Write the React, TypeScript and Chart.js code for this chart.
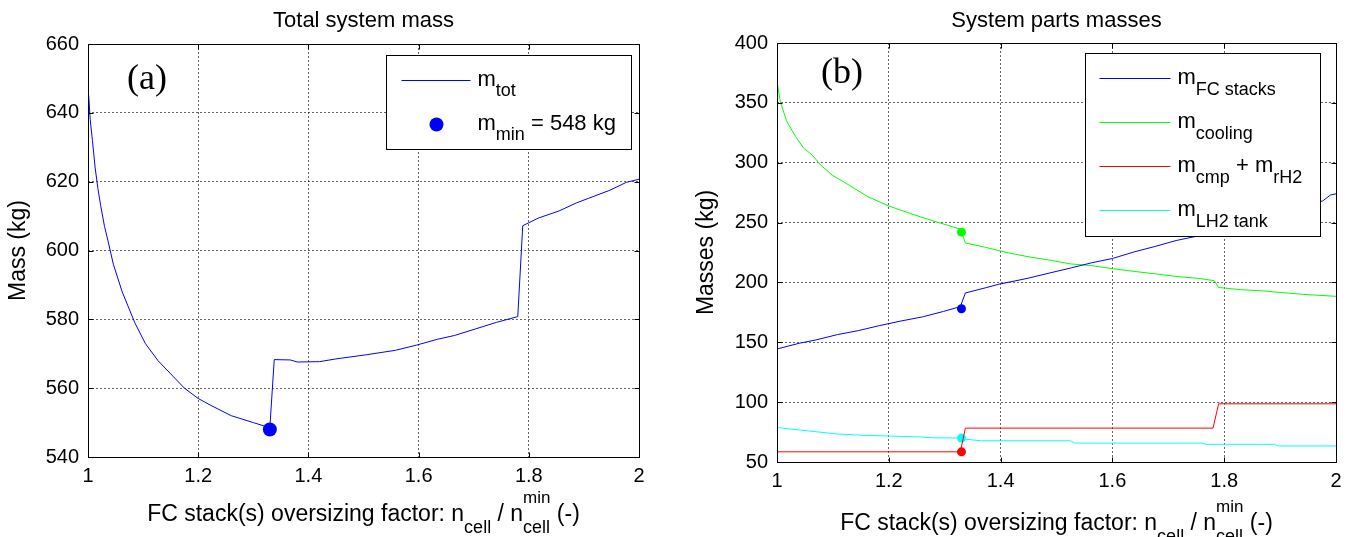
import React, { useEffect, useRef } from 'react';
import { Chart, registerables } from 'chart.js';

Chart.register(...registerables);

const FONT = '"Liberation Sans", Arial, Helvetica, sans-serif';
const SERIF = '"Liberation Serif", "Times New Roman", Times, serif';

// ---------- Panel (a): total system mass ----------
const totX = [1.0, 1.004, 1.008, 1.013, 1.018, 1.023, 1.03, 1.036, 1.046, 1.062, 1.085, 1.104, 1.127, 1.154, 1.175, 1.2, 1.223, 1.26, 1.3, 1.33,
  1.338, 1.367, 1.38, 1.42, 1.45, 1.505, 1.558, 1.596, 1.634, 1.665, 1.703, 1.741, 1.78,
  1.789, 1.817, 1.855, 1.886, 1.909, 1.947, 1.977, 2.0];
const totY = [648, 638, 632, 624, 618, 613, 607, 603, 596, 588, 579, 573, 568, 563.5, 560, 557, 555, 552, 550, 548.5,
  568.3, 568.2, 567.6, 567.7, 568.5, 569.7, 571, 572.5, 574.2, 575.3, 577.2, 579.1, 580.8,
  607.2, 609.4, 611.5, 613.8, 615.2, 617.5, 619.8, 620.7];
const minX = [1.33];
const minY = [548];
const aXTicks = [1, 1.2, 1.4, 1.6, 1.8, 2];
const aXTickLabels = ['1', '1.2', '1.4', '1.6', '1.8', '2'];
const aYTicks = [540, 560, 580, 600, 620, 640, 660];
const aYTickLabels = ['540', '560', '580', '600', '620', '640', '660'];

// ---------- Panel (b): system parts masses ----------
const fcX = [1, 1.04, 1.07, 1.108, 1.146, 1.184, 1.222, 1.26, 1.298, 1.328, 1.337, 1.373, 1.396, 1.449, 1.487, 1.525,
  1.563, 1.6, 1.639, 1.676, 1.714, 1.752, 1.782, 1.79, 1.85, 1.9, 1.95, 1.976, 1.99, 2];
const fcY = [144.4, 149.2, 152, 156.4, 159.8, 164, 167.8, 171.2, 175.8, 179.8, 191.2, 195.5, 198.4, 203.5, 207.8, 212,
  216.4, 220, 225.5, 230, 235, 238.7, 242, 252.5, 258, 263, 266, 268, 273, 274];
const coolX = [1, 1.006, 1.017, 1.033, 1.048, 1.063, 1.078, 1.1, 1.131, 1.161, 1.199, 1.237, 1.275, 1.305, 1.328, 1.337,
  1.373, 1.411, 1.449, 1.487, 1.525, 1.563, 1.6, 1.639, 1.676, 1.714, 1.752, 1.782, 1.79, 1.828, 1.866, 1.904, 1.942, 2];
const coolY = [368, 351, 335, 322, 312, 306.5, 298, 289.3, 280.7, 272, 264, 257.8, 252, 247.8, 244.4, 233,
  229.3, 225, 221.5, 218.7, 215.5, 214, 211.5, 209.2, 207.2, 205, 203.5, 201.5, 195.8, 194, 193, 191.5, 190, 188.4];
const cmpX = [1, 1.328, 1.337, 1.78, 1.79, 2];
const cmpY = [58.5, 58.5, 78.3, 78.3, 98.6, 98.6];
const tankX = [1, 1.054, 1.107, 1.161, 1.252, 1.283, 1.33, 1.338, 1.366, 1.525, 1.533, 1.76, 1.767, 1.89, 1.896, 2];
const tankY = [78.8, 76.1, 73.4, 72.2, 71, 70.2, 70, 69, 67.7, 67.7, 65.8, 65.8, 64.8, 64.8, 63.4, 63.4];
const optX = [1.33];
const fcOpt = [178];
const coolOpt = [242];
const cmpOpt = [58.5];
const tankOpt = [70];
const bXTicks = [1, 1.2, 1.4, 1.6, 1.8, 2];
const bXTickLabels = ['1', '1.2', '1.4', '1.6', '1.8', '2'];
const bYTicks = [50, 100, 150, 200, 250, 300, 350, 400];
const bYTickLabels = ['50', '100', '150', '200', '250', '300', '350', '400'];

const BLUE = '#0000ff';
const GREEN = '#00ff00';
const RED = '#ff0000';
const CYAN = '#00ffff';

type Piece = { t: string; size: number; dy: number };
type Part = Piece | { stack: Piece[] };

const MAIN = 22;
const SUB = 18;

function partWidth(ctx: CanvasRenderingContext2D, p: Part): number {
  if ('stack' in p) {
    return Math.max(...p.stack.map((s) => partWidth(ctx, s)));
  }
  ctx.font = `${p.size}px ${FONT}`;
  return ctx.measureText(p.t).width;
}

function drawParts(ctx: CanvasRenderingContext2D, x: number, y: number, parts: Part[]) {
  let cx = x;
  ctx.textAlign = 'left';
  ctx.textBaseline = 'alphabetic';
  ctx.fillStyle = '#000';
  for (const p of parts) {
    if ('stack' in p) {
      for (const s of p.stack) {
        ctx.font = `${s.size}px ${FONT}`;
        ctx.fillText(s.t, cx, y + s.dy);
      }
      cx += partWidth(ctx, p);
    } else {
      ctx.font = `${p.size}px ${FONT}`;
      ctx.fillText(p.t, cx, y + p.dy);
      cx += ctx.measureText(p.t).width;
    }
  }
}

const xLabelParts: Part[] = [
  { t: 'FC stack(s) oversizing factor: n', size: 23, dy: 0 },
  { t: 'cell', size: SUB, dy: 12 },
  { t: ' / n', size: 23, dy: 0 },
  { stack: [{ t: 'min', size: 17, dy: -18 }, { t: 'cell', size: SUB, dy: 12 }] },
  { t: ' (-)', size: 23, dy: 0 },
];

type LegendEntry = { kind: 'line' | 'dot'; color: string; parts: Part[] };

type PanelCfg = {
  title: string;
  yTitle: string;
  tag: string;
  tagDx: number;
  tagY: number;
  xLabelDy: number;
  yTitleX: number;
  xTicks: number[];
  yTicks: number[];
  legend: LegendEntry[];
  legendBox: { rightGap: number; topGap: number; w: number; h: number; lineX0: number; lineX1: number; textX: number; row0: number; rowStep: number; dotX: number; dotR: number };
};

function decorPlugin(cfg: PanelCfg) {
  return {
    id: 'decor',
    afterDraw(chart: any) {
      const ctx: CanvasRenderingContext2D = chart.ctx;
      const { left, right, top, bottom } = chart.chartArea;
      const xs = chart.scales.x;
      const ys = chart.scales.y;
      ctx.save();
      // axes box
      const L = Math.floor(left) + 0.5;
      const R = Math.floor(right) + 0.5;
      const T = Math.floor(top) + 0.5;
      const B = Math.floor(bottom) + 0.5;
      ctx.strokeStyle = '#000';
      ctx.lineWidth = 1;
      ctx.setLineDash([]);
      ctx.strokeRect(L, T, R - L, B - T);
      // inward ticks on all sides
      ctx.beginPath();
      for (const v of cfg.xTicks) {
        const px = Math.round(xs.getPixelForValue(v)) + 0.5;
        ctx.moveTo(px, B); ctx.lineTo(px, B - 5);
        ctx.moveTo(px, T); ctx.lineTo(px, T + 5);
      }
      for (const v of cfg.yTicks) {
        const py = Math.round(ys.getPixelForValue(v)) + 0.5;
        ctx.moveTo(L, py); ctx.lineTo(L + 5, py);
        ctx.moveTo(R, py); ctx.lineTo(R - 5, py);
      }
      ctx.stroke();

      // title
      const cx = (left + right) / 2;
      ctx.fillStyle = '#000';
      ctx.font = `22px ${FONT}`;
      ctx.textAlign = 'center';
      ctx.textBaseline = 'alphabetic';
      ctx.fillText(cfg.title, cx, 27);

      // y title
      ctx.save();
      ctx.translate(cfg.yTitleX, (top + bottom) / 2);
      ctx.rotate(-Math.PI / 2);
      ctx.font = `23px ${FONT}`;
      ctx.textAlign = 'center';
      ctx.textBaseline = 'middle';
      ctx.fillText(cfg.yTitle, 0, 0);
      ctx.restore();

      // x title
      const w = xLabelParts.reduce((s, p) => s + partWidth(ctx, p), 0);
      drawParts(ctx, cx - w / 2, bottom + cfg.xLabelDy, xLabelParts);

      // panel tag
      ctx.font = `36px ${SERIF}`;
      ctx.textAlign = 'center';
      ctx.textBaseline = 'middle';
      ctx.fillStyle = '#000';
      ctx.fillText(cfg.tag, left + cfg.tagDx, cfg.tagY);

      // legend
      const lb = cfg.legendBox;
      const x0 = Math.floor(right - lb.rightGap - lb.w) + 0.5;
      const y0 = Math.floor(top + lb.topGap) + 0.5;
      ctx.fillStyle = '#fff';
      ctx.fillRect(x0, y0, lb.w, lb.h);
      ctx.strokeStyle = '#000';
      ctx.lineWidth = 1;
      ctx.strokeRect(x0, y0, lb.w, lb.h);
      cfg.legend.forEach((e, i) => {
        const ly = Math.round(y0 + lb.row0 + i * lb.rowStep) + 0.5;
        if (e.kind === 'line') {
          ctx.strokeStyle = e.color;
          ctx.lineWidth = 1;
          ctx.beginPath();
          ctx.moveTo(x0 + lb.lineX0, ly);
          ctx.lineTo(x0 + lb.lineX1, ly);
          ctx.stroke();
        } else {
          ctx.fillStyle = e.color;
          ctx.beginPath();
          ctx.arc(x0 + lb.dotX, ly, lb.dotR, 0, Math.PI * 2);
          ctx.fill();
        }
        drawParts(ctx, x0 + lb.textX, ly + 5, e.parts);
      });
      ctx.restore();
    },
  };
}

function pts(xs: number[], ys: number[]) {
  return xs.map((x, i) => ({ x, y: ys[i] }));
}

function lineDs(label: string, xs: number[], ys: number[], color: string) {
  return {
    type: 'line',
    label,
    data: pts(xs, ys),
    borderColor: color,
    backgroundColor: color,
    borderWidth: 1,
    pointRadius: 0,
    tension: 0,
    fill: false,
  };
}

function dotDs(label: string, xs: number[], ys: number[], color: string, r: number) {
  return {
    type: 'line',
    label,
    data: pts(xs, ys),
    showLine: false,
    pointRadius: r,
    pointHoverRadius: r,
    pointBackgroundColor: color,
    pointBorderColor: color,
    pointBorderWidth: 0,
    borderColor: color,
  };
}

function makeScales(xTicks: number[], xLabels: string[], yTicks: number[], yLabels: string[], yWidth: number, xHeight: number) {
  const grid = { color: 'rgba(0,0,0,0.6)', lineWidth: 1, drawTicks: false };
  const border = { display: false, dash: [2, 2] };
  const font = { family: FONT, size: 20 };
  return {
    x: {
      type: 'linear',
      min: xTicks[0],
      max: xTicks[xTicks.length - 1],
      afterBuildTicks: (s: any) => { s.ticks = xTicks.map((v) => ({ value: v })); },
      afterFit: (s: any) => { s.height = xHeight; },
      ticks: {
        autoSkip: false,
        maxRotation: 0,
        padding: 7,
        color: '#000',
        font,
        callback: (_v: any, i: number) => xLabels[i],
      },
      grid,
      border,
    },
    y: {
      type: 'linear',
      min: yTicks[0],
      max: yTicks[yTicks.length - 1],
      afterBuildTicks: (s: any) => { s.ticks = yTicks.map((v) => ({ value: v })); },
      afterFit: (s: any) => { s.width = yWidth; },
      ticks: {
        autoSkip: false,
        padding: 9,
        color: '#000',
        font,
        callback: (_v: any, i: number) => yLabels[i],
      },
      grid,
      border,
    },
  };
}

const panelA: PanelCfg = {
  title: 'Total system mass',
  yTitle: 'Mass (kg)',
  tag: '(a)',
  tagDx: 59,
  tagY: 80,
  xLabelDy: 64,
  yTitleX: 19,
  xTicks: aXTicks,
  yTicks: aYTicks,
  legend: [
    { kind: 'line', color: BLUE, parts: [{ t: 'm', size: MAIN, dy: 0 }, { t: 'tot', size: SUB, dy: 10 }] },
    { kind: 'dot', color: BLUE, parts: [{ t: 'm', size: MAIN, dy: 0 }, { t: 'min', size: SUB, dy: 10 }, { t: ' = 548 kg', size: MAIN, dy: 0 }] },
  ],
  legendBox: { rightGap: 8, topGap: 11, w: 245, h: 94, lineX0: 15, lineX1: 84, textX: 91, row0: 24, rowStep: 44, dotX: 50, dotR: 7 },
};

const panelB: PanelCfg = {
  title: 'System parts masses',
  yTitle: 'Masses (kg)',
  tag: '(b)',
  tagDx: 65,
  tagY: 74,
  xLabelDy: 68,
  yTitleX: 17,
  xTicks: bXTicks,
  yTicks: bYTicks,
  legend: [
    { kind: 'line', color: BLUE, parts: [{ t: 'm', size: MAIN, dy: 0 }, { t: 'FC stacks', size: SUB, dy: 11 }] },
    { kind: 'line', color: GREEN, parts: [{ t: 'm', size: MAIN, dy: 0 }, { t: 'cooling', size: SUB, dy: 11 }] },
    { kind: 'line', color: RED, parts: [{ t: 'm', size: MAIN, dy: 0 }, { t: 'cmp', size: SUB, dy: 11 }, { t: ' + m', size: MAIN, dy: 0 }, { t: 'rH2', size: SUB, dy: 11 }] },
    { kind: 'line', color: CYAN, parts: [{ t: 'm', size: MAIN, dy: 0 }, { t: 'LH2 tank', size: SUB, dy: 11 }] },
  ],
  legendBox: { rightGap: 16, topGap: 10, w: 235, h: 183, lineX0: 14, lineX1: 85, textX: 92, row0: 24, rowStep: 44, dotX: 50, dotR: 0 },
};

function PanelChart({ width, height, left, build }: { width: number; height: number; left: number; build: (c: HTMLCanvasElement) => Chart }) {
  const ref = useRef<HTMLCanvasElement>(null);
  useEffect(() => {
    if (!ref.current) return;
    const chart = build(ref.current);
    return () => chart.destroy();
  }, []);
  return (
    <div style={{ position: 'absolute', left, top: 0, width, height }}>
      <canvas ref={ref} width={width} height={height} style={{ display: 'block', width, height }} />
    </div>
  );
}

function buildA(canvas: HTMLCanvasElement) {
  return new Chart(canvas, {
    type: 'line',
    data: {
      datasets: [
        lineDs('m_tot', totX, totY, BLUE),
        dotDs('m_min', minX, minY, BLUE, 7),
      ] as any,
    },
    options: {
      responsive: false,
      animation: false,
      devicePixelRatio: 1,
      layout: { padding: { left: 0, top: 44, right: 51, bottom: 0 } },
      plugins: { legend: { display: false }, title: { display: false }, tooltip: { enabled: false } },
      scales: makeScales(aXTicks, aXTickLabels, aYTicks, aYTickLabels, 88, 80) as any,
    },
    plugins: [decorPlugin(panelA)],
  });
}

function buildB(canvas: HTMLCanvasElement) {
  return new Chart(canvas, {
    type: 'line',
    data: {
      datasets: [
        lineDs('m_FC stacks', fcX, fcY, BLUE),
        lineDs('m_cooling', coolX, coolY, GREEN),
        lineDs('m_cmp + m_rH2', cmpX, cmpY, RED),
        lineDs('m_LH2 tank', tankX, tankY, CYAN),
        dotDs('FC opt', optX, fcOpt, BLUE, 4.5),
        dotDs('cooling opt', optX, coolOpt, GREEN, 4.5),
        dotDs('cmp opt', optX, cmpOpt, RED, 4.5),
        dotDs('tank opt', optX, tankOpt, CYAN, 4.5),
      ] as any,
    },
    options: {
      responsive: false,
      animation: false,
      devicePixelRatio: 1,
      layout: { padding: { left: 0, top: 43, right: 17, bottom: 0 } },
      plugins: { legend: { display: false }, title: { display: false }, tooltip: { enabled: false } },
      scales: makeScales(bXTicks, bXTickLabels, bYTicks, bYTickLabels, 87, 75) as any,
    },
    plugins: [decorPlugin(panelB)],
  });
}

export default function App() {
  return (
    <div style={{ position: 'absolute', left: 0, top: 0, width: 1353, height: 537, background: '#fff' }}>
      <PanelChart width={690} height={537} left={0} build={buildA} />
      <PanelChart width={663} height={537} left={690} build={buildB} />
    </div>
  );
}
